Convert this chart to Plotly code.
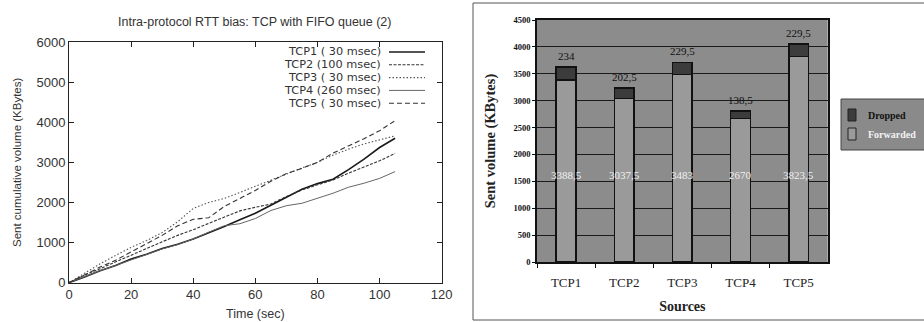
import plotly.graph_objects as go

# ---- left panel data (cumulative sent volume, KBytes) ----
time_s = [0, 5, 10, 15, 20, 25, 30, 35, 40, 45, 50, 55, 60, 65, 70, 75, 80, 85, 90, 95, 100, 105]
tcp1 = [0, 140, 300, 430, 590, 710, 850, 960, 1090, 1240, 1400, 1570, 1730, 1930, 2140, 2330, 2470, 2580, 2820, 3080, 3370, 3600]
tcp2 = [0, 190, 350, 520, 700, 860, 1020, 1180, 1320, 1480, 1640, 1790, 1880, 1960, 2150, 2310, 2440, 2560, 2730, 2880, 3040, 3220]
tcp3 = [0, 240, 470, 680, 880, 1050, 1250, 1520, 1850, 2000, 2100, 2250, 2400, 2550, 2720, 2860, 3000, 3180, 3330, 3460, 3560, 3660]
tcp4 = [0, 150, 300, 430, 570, 710, 840, 950, 1090, 1260, 1420, 1470, 1600, 1800, 1920, 1980, 2100, 2230, 2380, 2480, 2600, 2770]
tcp5 = [0, 200, 390, 560, 760, 960, 1180, 1420, 1580, 1620, 1900, 2100, 2300, 2530, 2720, 2850, 3000, 3230, 3400, 3590, 3790, 4040]
line_names = ["TCP1 ( 30 msec)", "TCP2 (100 msec)", "TCP3 ( 30 msec)", "TCP4 (260 msec)", "TCP5 ( 30 msec)"]

# ---- right panel data ----
sources = ["TCP1", "TCP2", "TCP3", "TCP4", "TCP5"]
forwarded = [3388.5, 3037.5, 3483, 2670, 3823.5]
dropped = [234, 202.5, 229.5, 138.5, 229.5]
forwarded_labels = ["3388,5", "3037,5", "3483", "2670", "3823,5"]
dropped_labels = ["234", "202,5", "229,5", "138,5", "229,5"]
bar_legend = ["Dropped", "Forwarded"]
left_xticks = [0, 20, 40, 60, 80, 100, 120]
left_yticks = [0, 1000, 2000, 3000, 4000, 5000, 6000]
right_yticks = [0, 500, 1000, 1500, 2000, 2500, 3000, 3500, 4000, 4500]

W, H = 924, 322
fig = go.Figure()

series = [tcp1, tcp2, tcp3, tcp4, tcp5]
styles = [
    dict(color="#1a1a1a", width=1.6, dash="solid"),
    dict(color="#333333", width=1.1, dash="3px,1.5px"),
    dict(color="#555555", width=1.1, dash="1.5px,2px"),
    dict(color="#666666", width=1.0, dash="solid"),
    dict(color="#333333", width=1.1, dash="5px,3px"),
]
for name, ys, st in zip(line_names, series, styles):
    fig.add_trace(go.Scatter(x=time_s, y=ys, mode="lines", name=name, line=st,
                             showlegend=False, xaxis="x", yaxis="y"))

FWD_COLOR, DROP_COLOR = "#9a9a9a", "#3c3c3c"
fig.add_trace(go.Bar(x=sources, y=forwarded, name="Forwarded",
                     marker=dict(color=FWD_COLOR, line=dict(color="#111111", width=1.5)),
                     width=0.34, xaxis="x2", yaxis="y2", showlegend=False))
fig.add_trace(go.Bar(x=sources, y=dropped, name="Dropped",
                     marker=dict(color=DROP_COLOR, line=dict(color="#111111", width=1.5)),
                     width=0.34, xaxis="x2", yaxis="y2", showlegend=False))

annotations = []
for s, lab in zip(sources, forwarded_labels):
    annotations.append(dict(x=s, y=1620, xref="x2", yref="y2", text=lab, showarrow=False,
                            font=dict(family="Liberation Serif", size=11, color="#f0f0f0")))
for s, f, d, lab in zip(sources, forwarded, dropped, dropped_labels):
    annotations.append(dict(x=s, y=f + d, xref="x2", yref="y2", text=lab, showarrow=False,
                            yanchor="bottom", yshift=3,
                            font=dict(family="Liberation Serif", size=11, color="#111111")))

# left title
annotations.append(dict(x=255 / W, y=1 - 22 / H, xref="paper", yref="paper", xanchor="center",
                        yanchor="middle", text="Intra-protocol RTT bias: TCP with FIFO queue (2)",
                        showarrow=False, font=dict(family="Liberation Sans", size=12.5, color="#333333")))

shapes = []
# custom left legend (text then line sample on the right, gnuplot style)
leg_y0 = 52
for i, (name, st) in enumerate(zip(line_names, styles)):
    ypx = leg_y0 + i * 12.8
    annotations.append(dict(x=383 / W, y=1 - ypx / H, xref="paper", yref="paper", text=name,
                            xanchor="right", yanchor="middle", showarrow=False,
                            font=dict(family="DejaVu Sans", size=11.3, color="#333333")))
    shapes.append(dict(type="line", xref="paper", yref="paper",
                       x0=389 / W, x1=425 / W, y0=1 - ypx / H, y1=1 - ypx / H, line=st))

# outer border of right panel
shapes.append(dict(type="rect", xref="paper", yref="paper", x0=473 / W, x1=1.02, y0=1 - 320 / H, y1=1 - 3 / H,
                   line=dict(color="#555555", width=1)))

# grey plot area for right panel
shapes.append(dict(type="rect", xref="x2 domain", yref="y2 domain", x0=0, x1=1, y0=0, y1=1,
                   fillcolor="#8c8c8c", line=dict(width=0), layer="below"))

# custom right legend box
shapes.append(dict(type="rect", xref="paper", yref="paper", x0=841 / W, x1=1.02, y0=1 - 150 / H, y1=1 - 99 / H,
                   fillcolor="#8a8a8a", line=dict(color="#444444", width=1)))
leg_rows = [(115, DROP_COLOR, "#111111"), (134, FWD_COLOR, "#f2f2f2")]
for label, (yc, fc, tc) in zip(bar_legend, leg_rows):
    shapes.append(dict(type="rect", xref="paper", yref="paper", x0=848 / W, x1=856 / W,
                       y0=1 - (yc + 6) / H, y1=1 - (yc - 6) / H,
                       fillcolor=fc, line=dict(color="#222222", width=1)))
    annotations.append(dict(x=866 / W, y=1 - yc / H, xref="paper", yref="paper",
                            text="<b>" + label + "</b>", xanchor="left", yanchor="middle",
                            showarrow=False, font=dict(family="Liberation Serif", size=10, color=tc)))

fig.update_layout(
    width=W, height=H, margin=dict(l=0, r=0, t=0, b=0, autoexpand=False),
    paper_bgcolor="white", plot_bgcolor="white",
    barmode="stack", bargap=0.66, showlegend=False,
    annotations=annotations, shapes=shapes,
    xaxis=dict(domain=[69 / W, 441.7 / W], range=[0, 120], tickvals=left_xticks,
               showgrid=False, zeroline=False, showline=True, mirror="allticks",
               linecolor="#222222", linewidth=1, ticks="inside", ticklen=5, tickcolor="#222222",
               tickfont=dict(family="Liberation Sans", size=13, color="#333333"),
               title=dict(text="Time (sec)", standoff=7,
                          font=dict(family="Liberation Sans", size=12.5, color="#333333"))),
    yaxis=dict(domain=[1 - 282.7 / H, 1 - 42 / H], range=[0, 6000], tickvals=left_yticks,
               showgrid=False, zeroline=False, showline=True, mirror="allticks",
               linecolor="#222222", linewidth=1, ticks="inside", ticklen=5, tickcolor="#222222",
               tickfont=dict(family="Liberation Sans", size=13, color="#333333"),
               title=dict(text="Sent cumulative volume (KBytes)", standoff=12,
                          font=dict(family="Liberation Sans", size=11.5, color="#333333"))),
    xaxis2=dict(domain=[537 / W, 827.7 / W], anchor="y2", showgrid=False, zeroline=False,
                showline=True, linecolor="#111111", linewidth=1.5, mirror=True,
                ticks="outside", tickson="boundaries", ticklen=4, tickcolor="#111111",
                ticklabelstandoff=8,
                tickfont=dict(family="Liberation Serif", size=13, color="#222222"),
                title=dict(text="<b>Sources</b>", standoff=12,
                           font=dict(family="Liberation Serif", size=14, color="#222222"))),
    yaxis2=dict(domain=[1 - 262 / H, 1 - 20 / H], anchor="x2", range=[0, 4500], tickvals=right_yticks,
                showgrid=True, gridcolor="#1a1a1a", gridwidth=1.2, zeroline=False,
                showline=True, linecolor="#111111", linewidth=1.5, mirror=True,
                ticks="outside", ticklen=3, tickcolor="#111111",
                tickfont=dict(family="Liberation Serif", size=8.5, color="#111111", weight="bold"),
                title=dict(text="<b>Sent volume (KBytes)</b>", standoff=14,
                           font=dict(family="Liberation Serif", size=14.5, color="#222222"))),
)

fig.write_html("out.html", config={"displayModeBar": False},
               post_script="document.body.style.margin='0';")
